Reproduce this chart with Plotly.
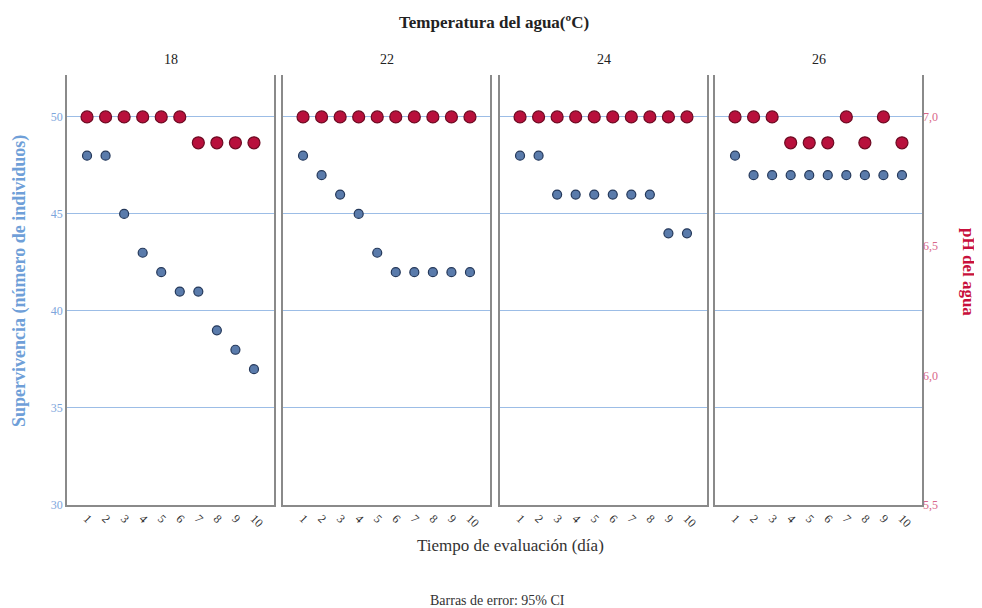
import plotly.graph_objects as go

# ---------------- data ----------------
temperaturas = ["18", "22", "24", "26"]
dias = [1, 2, 3, 4, 5, 6, 7, 8, 9, 10]
dias_labels = ["1", "2", "3", "4", "5", "6", "7", "8", "9", "10"]

supervivencia_18 = [48, 48, 45, 43, 42, 41, 41, 39, 38, 37]
supervivencia_22 = [48, 47, 46, 45, 43, 42, 42, 42, 42, 42]
supervivencia_24 = [48, 48, 46, 46, 46, 46, 46, 46, 44, 44]
supervivencia_26 = [48, 47, 47, 47, 47, 47, 47, 47, 47, 47]

ph_18 = [7.0, 7.0, 7.0, 7.0, 7.0, 7.0, 6.9, 6.9, 6.9, 6.9]
ph_22 = [7.0, 7.0, 7.0, 7.0, 7.0, 7.0, 7.0, 7.0, 7.0, 7.0]
ph_24 = [7.0, 7.0, 7.0, 7.0, 7.0, 7.0, 7.0, 7.0, 7.0, 7.0]
ph_26 = [7.0, 7.0, 7.0, 6.9, 6.9, 6.9, 7.0, 6.9, 7.0, 6.9]

surv_ticks = [30, 35, 40, 45, 50]
ph_ticks = [5.5, 6.0, 6.5, 7.0]
ph_tick_labels = ["5,5", "6,0", "6,5", "7,0"]

supervivencia = [supervivencia_18, supervivencia_22, supervivencia_24, supervivencia_26]
ph = [ph_18, ph_22, ph_24, ph_26]

# ---------------- layout geometry ----------------
# page body has an 8px margin; screen coords = figure coords + OFF
OFF = 8
W, H = 982, 608
ML, MT = 67 - OFF, 75 - OFF
MR = W - (922 - OFF)
MB = H - (505 - OFF)
PW = W - ML - MR
PH = H - MT - MB
panels_px = [(67, 274), (283, 490), (500, 707), (715, 922)]  # screen coords


def xp(X):
    return (X - OFF - ML) / PW


def yp(Y):
    return (H - MB - (Y - OFF)) / PH


FONT = "Liberation Serif, Times New Roman, serif"
BLUE_TICK = "#7ea6dc"
BLUE_TITLE = "#6f9fd8"
RED_TICK = "#d9688a"
RED_TITLE = "#c8103c"
FRAME = "#8a8a8a"
GRID = "#9cbde6"

fig = go.Figure()

for i in range(4):
    n = "" if i == 0 else str(i + 1)
    fig.add_trace(go.Scatter(
        x=dias, y=supervivencia[i], mode="markers",
        xaxis="x" + n, yaxis="y" + n,
        marker=dict(size=9, color="#5a7bab", line=dict(color="#24385a", width=1.2)),
        showlegend=False, name="Supervivencia"))
    fig.add_trace(go.Scatter(
        x=dias, y=ph[i], mode="markers",
        xaxis="x" + n, yaxis="y" + str(i + 5),
        marker=dict(size=12, color="#b8103c", line=dict(color="#6d0a22", width=1.2)),
        showlegend=False, name="pH"))

layout = dict(
    width=W, height=H,
    margin=dict(l=ML, r=MR, t=MT, b=MB),
    paper_bgcolor="white", plot_bgcolor="white",
    font=dict(family=FONT, color="#222"),
)

for i, (x0, x1) in enumerate(panels_px):
    n = "" if i == 0 else str(i + 1)
    layout["xaxis" + n] = dict(
        domain=[xp(x0), xp(x1)], anchor="y" + n,
        range=[-0.08, 11.08], tickvals=dias, ticktext=dias_labels,
        tickangle=45, tickfont=dict(size=12, color="#333", family=FONT),
        showgrid=False, zeroline=False, showline=True, linecolor=FRAME, linewidth=1.5,
        ticks="", fixedrange=True,
    )
    layout["yaxis" + n] = dict(
        domain=[0, 1], anchor="x" + n,
        range=[30, 52.16], tickvals=surv_ticks,
        showticklabels=(i == 0),
        tickfont=dict(size=12, color=BLUE_TICK, family=FONT),
        showgrid=True, gridcolor=GRID, gridwidth=1,
        zeroline=False, showline=True, mirror=True, linecolor=FRAME, linewidth=1.5,
        ticks="",
    )
    layout["yaxis" + str(i + 5)] = dict(
        overlaying="y" + n, anchor="x" + n, side="right",
        range=[5.5, 7.162], tickvals=ph_ticks, ticktext=ph_tick_labels,
        showticklabels=(i == 3),
        tickfont=dict(size=12, color=RED_TICK, family=FONT),
        showgrid=False, zeroline=False, showline=False, ticks="",
    )


def ann(text, X, Y, size, color, angle=0):
    return dict(text=text, x=xp(X), y=yp(Y), xref="paper", yref="paper",
                xanchor="center", yanchor="middle", showarrow=False, textangle=angle,
                font=dict(size=size, color=color, family=FONT))


annotations = [
    ann("<b>Temperatura del agua(ºC)</b>", 494, 22, 17, "#222"),
    ann("Tiempo de evaluación (día)", 511, 545, 17, "#333"),
    ann("Barras de error: 95% CI", 497, 600, 14, "#333"),
    ann("<b>Supervivencia (número de individuos)</b>", 19, 281, 18, BLUE_TITLE, -90),
    ann("<b>pH del agua</b>", 969, 272, 17, RED_TITLE, 90),
]
for t, (x0, x1) in zip(temperaturas, panels_px):
    annotations.append(ann(t, (x0 + x1) / 2, 60, 14, "#222"))
layout["annotations"] = annotations

fig.update_layout(**layout)
fig.write_html("out.html")
